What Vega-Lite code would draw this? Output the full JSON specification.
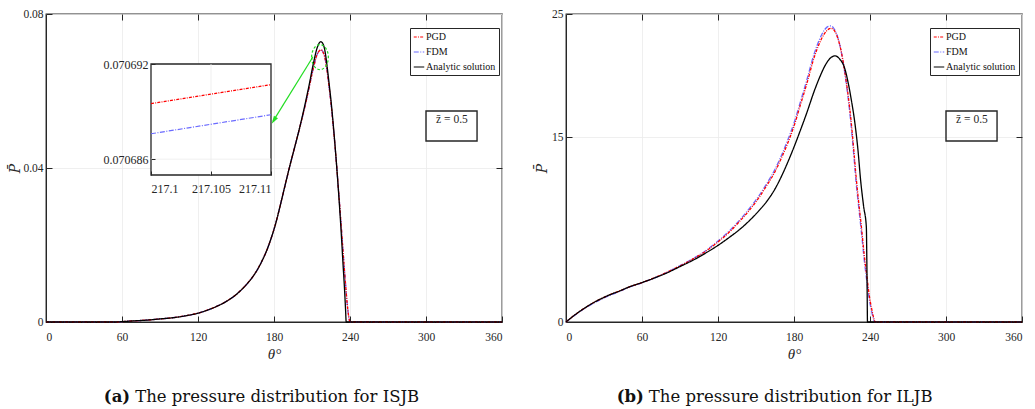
{
  "$schema": "https://vega.github.io/schema/vega-lite/v6.json",
  "background": "white",
  "padding": {"left": 8, "top": 7, "right": 5, "bottom": 5},
  "config": {
    "font": "Liberation Serif",
    "view": {"stroke": "#262626", "strokeWidth": 1.3},
    "axis": {
      "labelFont": "Liberation Serif", "labelFontSize": 11.5, "labelColor": "#262626",
      "titleFont": "Liberation Serif", "titleFontSize": 15, "titleFontStyle": "italic", "titleFontWeight": "normal", "titleColor": "#262626",
      "domainColor": "#262626", "tickColor": "#262626", "gridColor": "#ebebeb", "gridWidth": 0.8,
      "tickSize": -6
    },
    "legend": {
      "orient": "none", "legendX": 364, "legendY": 14,
      "strokeColor": "#262626", "fillColor": "white", "padding": 3, "cornerRadius": 0,
      "labelFont": "Liberation Serif", "labelFontSize": 10, "labelColor": "#111111",
      "symbolType": "stroke", "symbolSize": 110, "symbolStrokeWidth": 1.2,
      "rowPadding": 4, "labelOffset": 1
    }
  },
  "datasets": {
    "isjb": [
      {"m":"FDM","t":0,"p":0},{"m":"FDM","t":30,"p":0},{"m":"FDM","t":55,"p":0},{"m":"FDM","t":60,"p":0.0001},{"m":"FDM","t":70,"p":0.0003},{"m":"FDM","t":80,"p":0.0005},{"m":"FDM","t":90,"p":0.0008},{"m":"FDM","t":100,"p":0.0011},{"m":"FDM","t":110,"p":0.0016},{"m":"FDM","t":120,"p":0.0023},{"m":"FDM","t":125,"p":0.0028},{"m":"FDM","t":130,"p":0.0034},{"m":"FDM","t":135,"p":0.0041},{"m":"FDM","t":140,"p":0.0049},{"m":"FDM","t":145,"p":0.0059},{"m":"FDM","t":150,"p":0.0071},{"m":"FDM","t":155,"p":0.0086},{"m":"FDM","t":160,"p":0.0104},{"m":"FDM","t":165,"p":0.0126},{"m":"FDM","t":170,"p":0.0155},{"m":"FDM","t":175,"p":0.0192},{"m":"FDM","t":178,"p":0.022},{"m":"FDM","t":181,"p":0.0252},{"m":"FDM","t":184,"p":0.029},{"m":"FDM","t":187,"p":0.0331},{"m":"FDM","t":190,"p":0.0372},{"m":"FDM","t":193,"p":0.0412},{"m":"FDM","t":196,"p":0.045},{"m":"FDM","t":199,"p":0.0488},{"m":"FDM","t":202,"p":0.0527},
      {"m":"FDM","t":205,"p":0.0568},{"m":"FDM","t":208,"p":0.0613},{"m":"FDM","t":210,"p":0.0644},{"m":"FDM","t":212,"p":0.0672},{"m":"FDM","t":213.5,"p":0.069},{"m":"FDM","t":215,"p":0.0701},{"m":"FDM","t":216,"p":0.0705},{"m":"FDM","t":217.1,"p":0.0706876},{"m":"FDM","t":218,"p":0.0705},{"m":"FDM","t":219,"p":0.0699},{"m":"FDM","t":220,"p":0.0689},{"m":"FDM","t":221,"p":0.0672},{"m":"FDM","t":222,"p":0.065},{"m":"FDM","t":223,"p":0.0624},{"m":"FDM","t":224,"p":0.0597},{"m":"FDM","t":225,"p":0.0568},{"m":"FDM","t":227,"p":0.05},{"m":"FDM","t":229,"p":0.0424},{"m":"FDM","t":231,"p":0.034},{"m":"FDM","t":233,"p":0.0252},{"m":"FDM","t":235,"p":0.0162},{"m":"FDM","t":236.5,"p":0.0098},{"m":"FDM","t":237.8,"p":0.0047},{"m":"FDM","t":239,"p":0.0014},{"m":"FDM","t":240,"p":0},{"m":"FDM","t":300,"p":0},{"m":"FDM","t":360,"p":0},

      {"m":"PGD","t":0,"p":0},{"m":"PGD","t":30,"p":0},{"m":"PGD","t":55,"p":0},{"m":"PGD","t":60,"p":0.0001},{"m":"PGD","t":70,"p":0.0003},{"m":"PGD","t":80,"p":0.0005},{"m":"PGD","t":90,"p":0.0008},{"m":"PGD","t":100,"p":0.0011},{"m":"PGD","t":110,"p":0.0016},{"m":"PGD","t":120,"p":0.0023},{"m":"PGD","t":125,"p":0.0028},{"m":"PGD","t":130,"p":0.0034},{"m":"PGD","t":135,"p":0.0041},{"m":"PGD","t":140,"p":0.0049},{"m":"PGD","t":145,"p":0.0059},{"m":"PGD","t":150,"p":0.0071},{"m":"PGD","t":155,"p":0.0086},{"m":"PGD","t":160,"p":0.0104},{"m":"PGD","t":165,"p":0.0126},{"m":"PGD","t":170,"p":0.0155},{"m":"PGD","t":175,"p":0.0192},{"m":"PGD","t":178,"p":0.022},{"m":"PGD","t":181,"p":0.0252},{"m":"PGD","t":184,"p":0.029},{"m":"PGD","t":187,"p":0.0331},{"m":"PGD","t":190,"p":0.0372},{"m":"PGD","t":193,"p":0.0412},{"m":"PGD","t":196,"p":0.045},{"m":"PGD","t":199,"p":0.0488},{"m":"PGD","t":202,"p":0.0527},
      {"m":"PGD","t":205,"p":0.0568},{"m":"PGD","t":208,"p":0.0613},{"m":"PGD","t":210,"p":0.0644},{"m":"PGD","t":212,"p":0.0672},{"m":"PGD","t":213.5,"p":0.069},{"m":"PGD","t":215,"p":0.0701},{"m":"PGD","t":216,"p":0.0705},{"m":"PGD","t":217.1,"p":0.0706895},{"m":"PGD","t":218,"p":0.0705},{"m":"PGD","t":219,"p":0.0699},{"m":"PGD","t":220,"p":0.0689},{"m":"PGD","t":221,"p":0.0672},{"m":"PGD","t":222,"p":0.065},{"m":"PGD","t":223,"p":0.0624},{"m":"PGD","t":224,"p":0.0597},{"m":"PGD","t":225,"p":0.0568},{"m":"PGD","t":227,"p":0.05},{"m":"PGD","t":229,"p":0.0424},{"m":"PGD","t":231,"p":0.034},{"m":"PGD","t":233,"p":0.0252},{"m":"PGD","t":235,"p":0.0162},{"m":"PGD","t":236.5,"p":0.0098},{"m":"PGD","t":237.8,"p":0.0047},{"m":"PGD","t":239,"p":0.0014},{"m":"PGD","t":240,"p":0},{"m":"PGD","t":300,"p":0},{"m":"PGD","t":360,"p":0},

      {"m":"Analytic solution","t":0,"p":0},{"m":"Analytic solution","t":30,"p":0},{"m":"Analytic solution","t":55,"p":0},{"m":"Analytic solution","t":60,"p":0.0001},{"m":"Analytic solution","t":70,"p":0.0003},{"m":"Analytic solution","t":80,"p":0.0005},{"m":"Analytic solution","t":90,"p":0.0008},{"m":"Analytic solution","t":100,"p":0.0011},{"m":"Analytic solution","t":110,"p":0.0016},{"m":"Analytic solution","t":120,"p":0.0023},{"m":"Analytic solution","t":125,"p":0.0028},{"m":"Analytic solution","t":130,"p":0.0034},{"m":"Analytic solution","t":135,"p":0.0041},{"m":"Analytic solution","t":140,"p":0.0049},{"m":"Analytic solution","t":145,"p":0.0059},{"m":"Analytic solution","t":150,"p":0.0071},{"m":"Analytic solution","t":155,"p":0.0086},{"m":"Analytic solution","t":160,"p":0.0104},{"m":"Analytic solution","t":165,"p":0.0126},{"m":"Analytic solution","t":170,"p":0.0155},{"m":"Analytic solution","t":175,"p":0.0192},{"m":"Analytic solution","t":178,"p":0.022},{"m":"Analytic solution","t":181,"p":0.0252},{"m":"Analytic solution","t":184,"p":0.029},{"m":"Analytic solution","t":187,"p":0.0331},{"m":"Analytic solution","t":190,"p":0.0372},{"m":"Analytic solution","t":193,"p":0.0412},{"m":"Analytic solution","t":196,"p":0.045},{"m":"Analytic solution","t":199,"p":0.0488},{"m":"Analytic solution","t":202,"p":0.0529},
      {"m":"Analytic solution","t":205,"p":0.0573},{"m":"Analytic solution","t":208,"p":0.062},{"m":"Analytic solution","t":210,"p":0.0654},{"m":"Analytic solution","t":212,"p":0.0685},{"m":"Analytic solution","t":213.5,"p":0.0706},{"m":"Analytic solution","t":215,"p":0.072},{"m":"Analytic solution","t":216,"p":0.0726},{"m":"Analytic solution","t":217,"p":0.0728},{"m":"Analytic solution","t":218,"p":0.0726},{"m":"Analytic solution","t":219,"p":0.072},{"m":"Analytic solution","t":220,"p":0.0708},{"m":"Analytic solution","t":221,"p":0.0688},{"m":"Analytic solution","t":222,"p":0.0662},{"m":"Analytic solution","t":223,"p":0.0634},{"m":"Analytic solution","t":224,"p":0.0605},{"m":"Analytic solution","t":225,"p":0.0575},{"m":"Analytic solution","t":227,"p":0.0505},{"m":"Analytic solution","t":229,"p":0.0425},{"m":"Analytic solution","t":231,"p":0.0335},{"m":"Analytic solution","t":233,"p":0.0235},{"m":"Analytic solution","t":234.5,"p":0.015},{"m":"Analytic solution","t":235.7,"p":0.0084},{"m":"Analytic solution","t":236.5,"p":0.0032},{"m":"Analytic solution","t":237,"p":0},{"m":"Analytic solution","t":300,"p":0},{"m":"Analytic solution","t":360,"p":0}
    ],
    "inset": [
      {"m":"FDM","t":217.1,"p":0.0706876},{"m":"FDM","t":217.11,"p":0.0706888},
      {"m":"PGD","t":217.1,"p":0.0706895},{"m":"PGD","t":217.11,"p":0.0706907}
    ],
    "iljb": [
      {"m":"FDM","t":0,"p":0},{"m":"FDM","t":5,"p":0.4},{"m":"FDM","t":10,"p":0.77},{"m":"FDM","t":15,"p":1.11},{"m":"FDM","t":20,"p":1.42},{"m":"FDM","t":25,"p":1.7},{"m":"FDM","t":30,"p":1.95},{"m":"FDM","t":35,"p":2.18},{"m":"FDM","t":41,"p":2.43},{"m":"FDM","t":50,"p":2.82},{"m":"FDM","t":60,"p":3.18},{"m":"FDM","t":70,"p":3.58},{"m":"FDM","t":80,"p":4.05},{"m":"FDM","t":90,"p":4.57},{"m":"FDM","t":100,"p":5.13},{"m":"FDM","t":110,"p":5.77},{"m":"FDM","t":120,"p":6.57},{"m":"FDM","t":130,"p":7.5},{"m":"FDM","t":136,"p":8.15},{"m":"FDM","t":145,"p":9.25},{"m":"FDM","t":152,"p":10.2},{"m":"FDM","t":158,"p":11.15},{"m":"FDM","t":165,"p":12.4},{"m":"FDM","t":170,"p":13.5},{"m":"FDM","t":175,"p":14.75},{"m":"FDM","t":180,"p":16.15},{"m":"FDM","t":185,"p":17.85},{"m":"FDM","t":190,"p":19.6},{"m":"FDM","t":196,"p":21.8},{"m":"FDM","t":200,"p":22.9},{"m":"FDM","t":204,"p":23.7},{"m":"FDM","t":207,"p":24.0},{"m":"FDM","t":209,"p":24.03},{"m":"FDM","t":211,"p":23.9},{"m":"FDM","t":213,"p":23.55},{"m":"FDM","t":215,"p":22.95},{"m":"FDM","t":217,"p":22.1},{"m":"FDM","t":219,"p":20.95},{"m":"FDM","t":221,"p":19.55},{"m":"FDM","t":223,"p":17.95},{"m":"FDM","t":225,"p":16.05},{"m":"FDM","t":227,"p":13.8},{"m":"FDM","t":229.2,"p":11.15},{"m":"FDM","t":231,"p":9.4},{"m":"FDM","t":233.2,"p":7.3},{"m":"FDM","t":235.5,"p":5.0},{"m":"FDM","t":237.9,"p":3.0},{"m":"FDM","t":239.5,"p":1.8},{"m":"FDM","t":241,"p":1.0},{"m":"FDM","t":242.5,"p":0.35},{"m":"FDM","t":243.8,"p":0},{"m":"FDM","t":300,"p":0},{"m":"FDM","t":360,"p":0},

      {"m":"PGD","t":0,"p":0},{"m":"PGD","t":5,"p":0.42},{"m":"PGD","t":10,"p":0.8},{"m":"PGD","t":15,"p":1.15},{"m":"PGD","t":20,"p":1.47},{"m":"PGD","t":25,"p":1.75},{"m":"PGD","t":30,"p":2.0},{"m":"PGD","t":35,"p":2.23},{"m":"PGD","t":41,"p":2.47},{"m":"PGD","t":50,"p":2.85},{"m":"PGD","t":60,"p":3.2},{"m":"PGD","t":70,"p":3.6},{"m":"PGD","t":80,"p":4.05},{"m":"PGD","t":90,"p":4.55},{"m":"PGD","t":100,"p":5.1},{"m":"PGD","t":110,"p":5.72},{"m":"PGD","t":120,"p":6.5},{"m":"PGD","t":130,"p":7.4},{"m":"PGD","t":136,"p":8.05},{"m":"PGD","t":145,"p":9.1},{"m":"PGD","t":152,"p":10.05},{"m":"PGD","t":158,"p":11.0},{"m":"PGD","t":165,"p":12.2},{"m":"PGD","t":170,"p":13.3},{"m":"PGD","t":175,"p":14.5},{"m":"PGD","t":180,"p":15.9},{"m":"PGD","t":185,"p":17.6},{"m":"PGD","t":190,"p":19.3},{"m":"PGD","t":196,"p":21.5},{"m":"PGD","t":200,"p":22.6},{"m":"PGD","t":204,"p":23.4},{"m":"PGD","t":207,"p":23.75},{"m":"PGD","t":209,"p":23.84},{"m":"PGD","t":211,"p":23.75},{"m":"PGD","t":213,"p":23.45},{"m":"PGD","t":215,"p":22.9},{"m":"PGD","t":217,"p":22.1},{"m":"PGD","t":219,"p":21.0},{"m":"PGD","t":221,"p":19.7},{"m":"PGD","t":223,"p":18.2},{"m":"PGD","t":225,"p":16.4},{"m":"PGD","t":227,"p":14.2},{"m":"PGD","t":229.2,"p":11.6},{"m":"PGD","t":231,"p":9.8},{"m":"PGD","t":233.2,"p":7.74},{"m":"PGD","t":235.5,"p":5.4},{"m":"PGD","t":237.9,"p":3.41},{"m":"PGD","t":239.5,"p":2.1},{"m":"PGD","t":241,"p":1.24},{"m":"PGD","t":242.5,"p":0.5},{"m":"PGD","t":244.2,"p":0},{"m":"PGD","t":300,"p":0},{"m":"PGD","t":360,"p":0},

      {"m":"Analytic solution","t":0,"p":0},{"m":"Analytic solution","t":5,"p":0.42},{"m":"Analytic solution","t":10,"p":0.8},{"m":"Analytic solution","t":15,"p":1.15},{"m":"Analytic solution","t":20,"p":1.47},{"m":"Analytic solution","t":25,"p":1.75},{"m":"Analytic solution","t":30,"p":2.0},{"m":"Analytic solution","t":35,"p":2.23},{"m":"Analytic solution","t":41,"p":2.46},{"m":"Analytic solution","t":50,"p":2.85},{"m":"Analytic solution","t":60,"p":3.2},{"m":"Analytic solution","t":70,"p":3.58},{"m":"Analytic solution","t":80,"p":4.0},{"m":"Analytic solution","t":90,"p":4.5},{"m":"Analytic solution","t":100,"p":5.0},{"m":"Analytic solution","t":110,"p":5.58},{"m":"Analytic solution","t":120,"p":6.22},{"m":"Analytic solution","t":130,"p":6.95},{"m":"Analytic solution","t":136,"p":7.42},{"m":"Analytic solution","t":145,"p":8.25},{"m":"Analytic solution","t":152,"p":9.0},{"m":"Analytic solution","t":160,"p":10.0},{"m":"Analytic solution","t":165,"p":10.8},{"m":"Analytic solution","t":170,"p":11.8},{"m":"Analytic solution","t":175,"p":12.95},{"m":"Analytic solution","t":180,"p":14.2},{"m":"Analytic solution","t":185,"p":15.55},{"m":"Analytic solution","t":190,"p":16.95},{"m":"Analytic solution","t":196,"p":18.75},{"m":"Analytic solution","t":200,"p":19.8},{"m":"Analytic solution","t":205,"p":20.9},{"m":"Analytic solution","t":209,"p":21.45},{"m":"Analytic solution","t":212.6,"p":21.6},{"m":"Analytic solution","t":216,"p":21.35},{"m":"Analytic solution","t":220,"p":20.6},{"m":"Analytic solution","t":223,"p":19.3},{"m":"Analytic solution","t":225.3,"p":18.0},{"m":"Analytic solution","t":228,"p":16.2},{"m":"Analytic solution","t":230.5,"p":13.96},{"m":"Analytic solution","t":232.6,"p":11.5},{"m":"Analytic solution","t":235,"p":9.36},{"m":"Analytic solution","t":237.1,"p":7.74},{"m":"Analytic solution","t":237.5,"p":5.0},{"m":"Analytic solution","t":237.8,"p":2.0},{"m":"Analytic solution","t":238,"p":0},{"m":"Analytic solution","t":300,"p":0},{"m":"Analytic solution","t":360,"p":0}
    ]
  },
  "bounds": "flush",
  "spacing": 64,
  "hconcat": [
    {
      "width": 456,
      "height": 308,
      "layer": [
        {
          "data": {"name": "isjb"},
          "mark": {"type": "line", "strokeWidth": 1.3, "interpolate": "monotone"},
          "encoding": {
            "x": {"field": "t", "type": "quantitative", "scale": {"domain": [0, 360], "nice": false, "zero": false}, "axis": {"orient": "bottom", "values": [0, 60, 120, 180, 240, 300, 360], "title": "θ°", "grid": true, "labelPadding": 15, "titlePadding": 4}},
            "y": {"field": "p", "type": "quantitative", "scale": {"domain": [0, 0.08], "nice": false, "zero": false}, "axis": {"orient": "left", "values": [0, 0.04, 0.08], "format": "~f", "title": "P̄", "titleFont": "DejaVu Serif", "titleFontSize": 14, "grid": true, "labelPadding": 9, "titlePadding": 0}},
            "color": {"field": "m", "type": "nominal", "scale": {"domain": ["PGD", "FDM", "Analytic solution"], "range": ["#ff0000", "#6b6bff", "#000000"]}, "legend": {"title": null}},
            "strokeDash": {"field": "m", "type": "nominal", "scale": {"domain": ["PGD", "FDM", "Analytic solution"], "range": [[3, 1.2, 1, 1.2], [5, 1.5, 1, 1.5], [1, 0]]}, "legend": {"title": null}}
          }
        },
        {
          "data": {"values": [{}]},
          "mark": {"type": "point", "opacity": 0},
          "encoding": {
            "x": {"datum": 0, "type": "quantitative", "scale": {"domain": [0, 360], "nice": false, "zero": false}, "axis": {"orient": "top", "values": [60, 120, 180, 240, 300], "labels": false, "title": null, "grid": false, "domain": false}},
            "y": {"datum": 0, "type": "quantitative", "scale": {"domain": [0, 0.08], "nice": false, "zero": false}, "axis": {"orient": "right", "values": [0.04], "labels": false, "title": null, "grid": false, "domain": false}}
          }
        },
        {
          "data": {"values": [{}]},
          "mark": {"type": "rect", "fill": "white", "fillOpacity": 0, "stroke": "#262626", "strokeWidth": 1.4},
          "encoding": {
            "x": {"datum": 300, "type": "quantitative", "scale": {"domain": [0, 360], "nice": false, "zero": false}, "axis": null}, "x2": {"datum": 340.3},
            "y": {"datum": 0.0548, "type": "quantitative", "scale": {"domain": [0, 0.08], "nice": false, "zero": false}, "axis": null}, "y2": {"datum": 0.047}
          }
        },
        {
          "data": {"values": [{}]},
          "mark": {"type": "text", "text": "z̄ = 0.5", "font": "Liberation Serif", "fontSize": 11.5, "color": "#262626", "align": "center", "baseline": "middle"},
          "encoding": {
            "x": {"datum": 320.5, "type": "quantitative", "scale": {"domain": [0, 360], "nice": false, "zero": false}, "axis": null},
            "y": {"datum": 0.0524, "type": "quantitative", "scale": {"domain": [0, 0.08], "nice": false, "zero": false}, "axis": null}
          }
        },
        {
          "data": {"values": [{}]},
          "mark": {"type": "point", "shape": "M-0.67,0A0.67,1 0 1,1 0.67,0A0.67,1 0 1,1 -0.67,0Z", "size": 625, "filled": false, "stroke": "#22dd22", "strokeWidth": 1.2, "strokeDash": [2.5, 2], "opacity": 1},
          "encoding": {
            "x": {"datum": 216.3, "type": "quantitative", "scale": {"domain": [0, 360], "nice": false, "zero": false}, "axis": null},
            "y": {"datum": 0.0688, "type": "quantitative", "scale": {"domain": [0, 0.08], "nice": false, "zero": false}, "axis": null}
          }
        },
        {
          "data": {"values": [{}]},
          "mark": {"type": "rule", "color": "#22dd22", "strokeWidth": 1.2},
          "encoding": {
            "x": {"datum": 210.8, "type": "quantitative", "scale": {"domain": [0, 360], "nice": false, "zero": false}, "axis": null}, "x2": {"datum": 179.2},
            "y": {"datum": 0.0689, "type": "quantitative", "scale": {"domain": [0, 0.08], "nice": false, "zero": false}, "axis": null}, "y2": {"datum": 0.0521}
          }
        },
        {
          "data": {"values": [{}]},
          "mark": {"type": "point", "shape": "M0,0L-0.6,2L0.6,2Z", "size": 64, "filled": true, "color": "#22dd22", "angle": 212, "opacity": 1},
          "encoding": {
            "x": {"datum": 178.2, "type": "quantitative", "scale": {"domain": [0, 360], "nice": false, "zero": false}, "axis": null},
            "y": {"datum": 0.0515, "type": "quantitative", "scale": {"domain": [0, 0.08], "nice": false, "zero": false}, "axis": null}
          }
        },
        {
          "data": {"values": [{}]},
          "mark": {"type": "text", "text": "(a)", "font": "DejaVu Serif", "fontWeight": "bold", "fontSize": 16.5, "color": "#111111", "align": "right", "baseline": "middle", "dx": -2},
          "encoding": {
            "x": {"datum": 68, "type": "quantitative", "scale": {"domain": [0, 360], "nice": false, "zero": false}, "axis": null},
            "y": {"datum": -0.0195, "type": "quantitative", "scale": {"domain": [0, 0.08], "nice": false, "zero": false}, "axis": null}
          }
        },
        {
          "data": {"values": [{}]},
          "mark": {"type": "text", "text": "The pressure distribution for ISJB", "font": "DejaVu Serif", "fontSize": 16.5, "color": "#111111", "align": "left", "baseline": "middle", "dx": 3},
          "encoding": {
            "x": {"datum": 68, "type": "quantitative", "scale": {"domain": [0, 360], "nice": false, "zero": false}, "axis": null},
            "y": {"datum": -0.0195, "type": "quantitative", "scale": {"domain": [0, 0.08], "nice": false, "zero": false}, "axis": null}
          }
        },
        {
          "data": {"values": [{}]},
          "mark": {"type": "rect", "fill": "white", "stroke": "#262626", "strokeWidth": 1.3},
          "encoding": {
            "x": {"datum": 217.1, "type": "quantitative", "scale": {"domain": [217.1, 217.11], "range": [105, 225], "nice": false, "zero": false}, "axis": {"orient": "bottom", "offset": -147, "values": [217.1, 217.105, 217.11], "format": "~f", "title": null, "grid": false, "domain": false, "zindex": 1, "labelPadding": 12, "tickSize": -4, "labelFontSize": 12}},
            "x2": {"datum": 217.11},
            "y": {"datum": 0.070685, "type": "quantitative", "scale": {"domain": [0.070685, 0.070692], "range": [161, 50], "nice": false, "zero": false}, "axis": {"orient": "left", "offset": -105, "values": [0.070686, 0.070692], "format": "~f", "title": null, "grid": false, "domain": false, "zindex": 1, "labelPadding": 7, "tickSize": -4, "labelFontSize": 12}},
            "y2": {"datum": 0.070692}
          }
        },
        {
          "data": {"values": [{}]},
          "mark": {"type": "rule", "color": "#ebebeb", "strokeWidth": 0.8},
          "encoding": {
            "x": {"datum": 217.105, "type": "quantitative", "scale": {"domain": [217.1, 217.11], "range": [105, 225], "nice": false, "zero": false}, "axis": null},
            "y": {"datum": 0.070685, "type": "quantitative", "scale": {"domain": [0.070685, 0.070692], "range": [161, 50], "nice": false, "zero": false}, "axis": null},
            "y2": {"datum": 0.070692}
          }
        },
        {
          "data": {"values": [{}]},
          "mark": {"type": "rule", "color": "#ebebeb", "strokeWidth": 0.8},
          "encoding": {
            "x": {"datum": 217.1, "type": "quantitative", "scale": {"domain": [217.1, 217.11], "range": [105, 225], "nice": false, "zero": false}, "axis": null},
            "x2": {"datum": 217.11},
            "y": {"datum": 0.070686, "type": "quantitative", "scale": {"domain": [0.070685, 0.070692], "range": [161, 50], "nice": false, "zero": false}, "axis": null}
          }
        },
        {
          "data": {"name": "inset"},
          "transform": [{"filter": "datum.m === 'FDM'"}],
          "mark": {"type": "line", "strokeWidth": 1.2, "color": "#6b6bff", "strokeDash": [5, 1.5, 1, 1.5]},
          "encoding": {
            "x": {"field": "t", "type": "quantitative", "scale": {"domain": [217.1, 217.11], "range": [105, 225], "nice": false, "zero": false}, "axis": null},
            "y": {"field": "p", "type": "quantitative", "scale": {"domain": [0.070685, 0.070692], "range": [161, 50], "nice": false, "zero": false}, "axis": null}
          }
        },
        {
          "data": {"name": "inset"},
          "transform": [{"filter": "datum.m === 'PGD'"}],
          "mark": {"type": "line", "strokeWidth": 1.2, "color": "#ff0000", "strokeDash": [3, 1.2, 1, 1.2]},
          "encoding": {
            "x": {"field": "t", "type": "quantitative", "scale": {"domain": [217.1, 217.11], "range": [105, 225], "nice": false, "zero": false}, "axis": null},
            "y": {"field": "p", "type": "quantitative", "scale": {"domain": [0.070685, 0.070692], "range": [161, 50], "nice": false, "zero": false}, "axis": null}
          }
        }
      ],
      "resolve": {"scale": {"x": "independent", "y": "independent"}, "axis": {"x": "independent", "y": "independent"}}
    },
    {
      "width": 456,
      "height": 308,
      "layer": [
        {
          "data": {"name": "iljb"},
          "mark": {"type": "line", "strokeWidth": 1.3, "interpolate": "monotone"},
          "encoding": {
            "x": {"field": "t", "type": "quantitative", "scale": {"domain": [0, 360], "nice": false, "zero": false}, "axis": {"orient": "bottom", "values": [0, 60, 120, 180, 240, 300, 360], "title": "θ°", "grid": true, "labelPadding": 15, "titlePadding": 4}},
            "y": {"field": "p", "type": "quantitative", "scale": {"domain": [0, 25], "nice": false}, "axis": {"orient": "left", "values": [0, 15, 25], "title": "P̄", "titleFont": "DejaVu Serif", "titleFontSize": 14, "grid": true, "labelPadding": 9, "titlePadding": 2}},
            "color": {"field": "m", "type": "nominal", "scale": {"domain": ["PGD", "FDM", "Analytic solution"], "range": ["#ff0000", "#6b6bff", "#000000"]}, "legend": {"title": null}},
            "strokeDash": {"field": "m", "type": "nominal", "scale": {"domain": ["PGD", "FDM", "Analytic solution"], "range": [[3, 1.2, 1, 1.2], [5, 1.5, 1, 1.5], [1, 0]]}, "legend": {"title": null}}
          }
        },
        {
          "data": {"values": [{}]},
          "mark": {"type": "point", "opacity": 0},
          "encoding": {
            "x": {"datum": 0, "type": "quantitative", "axis": {"orient": "top", "values": [60, 120, 180, 240, 300], "labels": false, "title": null, "grid": false, "domain": false}},
            "y": {"datum": 0, "type": "quantitative", "axis": {"orient": "right", "values": [15], "labels": false, "title": null, "grid": false, "domain": false}}
          }
        },
        {
          "data": {"values": [{}]},
          "mark": {"type": "rect", "fill": "white", "fillOpacity": 0, "stroke": "#262626", "strokeWidth": 1.4},
          "encoding": {"x": {"datum": 300, "axis": null}, "x2": {"datum": 340.3}, "y": {"datum": 17.13, "axis": null}, "y2": {"datum": 14.69}}
        },
        {
          "data": {"values": [{}]},
          "mark": {"type": "text", "text": "z̄ = 0.5", "font": "Liberation Serif", "fontSize": 11.5, "color": "#262626", "align": "center", "baseline": "middle"},
          "encoding": {"x": {"datum": 320.5, "axis": null}, "y": {"datum": 16.4, "axis": null}}
        },
        {
          "data": {"values": [{}]},
          "mark": {"type": "text", "text": "(b)", "font": "DejaVu Serif", "fontWeight": "bold", "fontSize": 16.5, "color": "#111111", "align": "right", "baseline": "middle", "dx": -2},
          "encoding": {"x": {"datum": 63, "axis": null}, "y": {"datum": -6.1, "axis": null}}
        },
        {
          "data": {"values": [{}]},
          "mark": {"type": "text", "text": "The pressure distribution for ILJB", "font": "DejaVu Serif", "fontSize": 16.5, "color": "#111111", "align": "left", "baseline": "middle", "dx": 3},
          "encoding": {"x": {"datum": 63, "axis": null}, "y": {"datum": -6.1, "axis": null}}
        }
      ],
      "resolve": {"axis": {"x": "independent", "y": "independent"}}
    }
  ],
  "resolve": {"scale": {"color": "independent", "strokeDash": "independent"}, "legend": {"color": "independent", "strokeDash": "independent"}}
}
